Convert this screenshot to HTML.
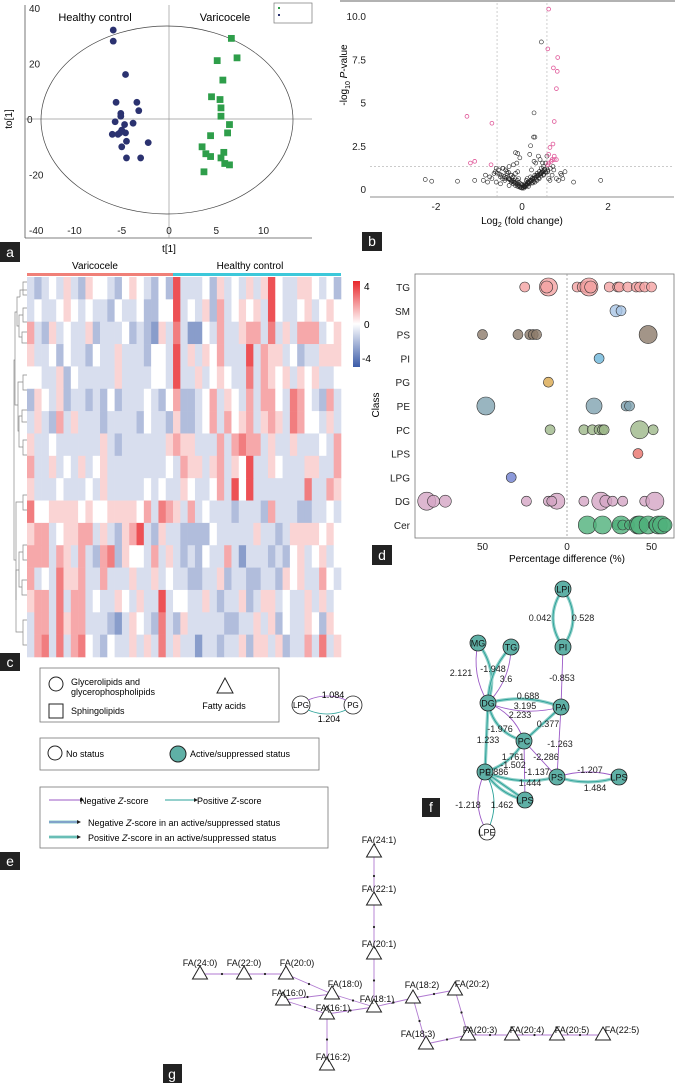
<!DOCTYPE html>
<html><head><meta charset="utf-8"><style>
html,body{margin:0;padding:0;background:#fff}
svg{display:block;font-family:"Liberation Sans",Arial,sans-serif}
</style></head><body>
<svg id="fig" width="675" height="1083" viewBox="0 0 675 1083" xmlns="http://www.w3.org/2000/svg">
<!-- Panel a -->
<g id="pa">
<line x1="25" y1="5" x2="25" y2="238" stroke="#555" stroke-width="0.8"/>
<line x1="25" y1="238" x2="312" y2="238" stroke="#555" stroke-width="0.8"/>
<line x1="169" y1="5" x2="169" y2="238" stroke="#999" stroke-width="0.7"/>
<line x1="25" y1="119" x2="312" y2="119" stroke="#999" stroke-width="0.7"/>
<ellipse cx="167" cy="120" rx="126" ry="94" fill="none" stroke="#444" stroke-width="0.7"/>
<rect x="274" y="3" width="38" height="20" fill="#fff" stroke="#777" stroke-width="0.7"/>
<rect x="278" y="7" width="2" height="2" fill="#2e9e4a"/><rect x="278" y="14" width="2" height="2" fill="#2b3270"/>
<text x="95" y="21" font-size="11" text-anchor="middle">Healthy control</text>
<text x="225" y="21" font-size="11" text-anchor="middle">Varicocele</text>
<text x="169" y="252" font-size="10" text-anchor="middle">t[1]</text>
<text x="12" y="119" font-size="10" text-anchor="middle" transform="rotate(-90 12 119)">to[1]</text>
<g id="pa-ticks" font-size="10" fill="#222"></g>
<g id="pa-pts"></g>
<rect x="0" y="242" width="20" height="20" fill="#222"/><text x="10" y="257" font-size="14" fill="#fff" text-anchor="middle">a</text>
</g>
<!-- Panel b -->
<g id="pb">
<line x1="340" y1="1" x2="675" y2="1" stroke="#999" stroke-width="1.5"/>
<line x1="370" y1="197" x2="674" y2="197" stroke="#666" stroke-width="0.7"/>
<g id="pb-grid"></g>
<g id="pb-ticks" font-size="10" fill="#222"></g>
<g id="pb-pts"></g>
<text x="522" y="224" font-size="10" text-anchor="middle">Log<tspan font-size="7" dy="3">2</tspan><tspan dy="-3"> (fold change)</tspan></text>
<text x="347" y="75" font-size="10" text-anchor="middle" transform="rotate(-90 347 75)">-log<tspan font-size="7" dy="3">10</tspan><tspan dy="-3"> </tspan><tspan font-style="italic">P</tspan>-value</text>
<rect x="362" y="232" width="20" height="19" fill="#222"/><text x="372" y="246" font-size="14" fill="#fff" text-anchor="middle">b</text>
</g>
<!-- Panel c -->
<g id="pc">
<text x="95" y="269" font-size="10" text-anchor="middle">Varicocele</text>
<text x="250" y="269" font-size="10" text-anchor="middle">Healthy control</text>
<rect x="27" y="273" width="146" height="3" fill="#f08078"/>
<rect x="173" y="273" width="168" height="3" fill="#3cc8da"/>
<g id="pc-cells"></g>
<g id="pc-dendro" stroke="#888" stroke-width="0.7" fill="none"></g>
<defs><linearGradient id="hg" x1="0" y1="0" x2="0" y2="1"><stop offset="0" stop-color="#e8262a"/><stop offset="0.5" stop-color="#ffffff"/><stop offset="1" stop-color="#3b5ba8"/></linearGradient></defs>
<rect x="353" y="281" width="7" height="86" fill="url(#hg)"/>
<text x="364" y="290" font-size="10">4</text><text x="364" y="328" font-size="10">0</text><text x="362" y="362" font-size="10">-4</text>
<rect x="0" y="653" width="20" height="18" fill="#222"/><text x="10" y="667" font-size="14" fill="#fff" text-anchor="middle">c</text>
</g>
<!-- Panel d -->
<g id="pd">
<rect x="415" y="274" width="259" height="264" fill="none" stroke="#777" stroke-width="0.8"/>
<line x1="567" y1="274" x2="567" y2="538" stroke="#888" stroke-width="0.7" stroke-dasharray="2,2"/>
<g id="pd-labels" font-size="10" fill="#222"></g>
<g id="pd-pts"></g>
<text x="379" y="405" font-size="10" text-anchor="middle" transform="rotate(-90 379 405)">Class</text>
<text x="567" y="562" font-size="10" text-anchor="middle">Percentage difference (%)</text>
<rect x="372" y="545" width="20" height="20" fill="#222"/><text x="382" y="560" font-size="14" fill="#fff" text-anchor="middle">d</text>
</g>
<!-- Panel e -->
<g id="pe" font-size="9">
<rect x="40" y="668" width="239" height="54" fill="#fff" stroke="#777" stroke-width="0.8"/>
<circle cx="56" cy="684" r="7" fill="none" stroke="#222"/>
<text x="71" y="685">Glycerolipids and</text><text x="71" y="695">glycerophospholipids</text>
<rect x="49" y="704" width="14" height="14" fill="none" stroke="#222"/>
<text x="71" y="714">Sphingolipids</text>
<polygon points="225,678 217,693 233,693" fill="none" stroke="#222"/>
<text x="224" y="709" text-anchor="middle">Fatty acids</text>
<circle cx="301" cy="705" r="9" fill="#fff" stroke="#222" stroke-width="0.8"/>
<circle cx="353" cy="705" r="9" fill="#fff" stroke="#222" stroke-width="0.8"/>
<path d="M308,700 Q327,692 346,700" fill="none" stroke="#9b59c6" stroke-width="0.8"/>
<path d="M308,710 Q327,718 346,710" fill="none" stroke="#2aa198" stroke-width="0.8"/>
<text x="301" y="708" text-anchor="middle" font-size="8">LPG</text><text x="353" y="708" text-anchor="middle" font-size="8">PG</text>
<text x="333" y="698" text-anchor="middle">1.084</text><text x="329" y="722" text-anchor="middle">1.204</text>
<rect x="40" y="738" width="279" height="32" fill="#fff" stroke="#777" stroke-width="0.8"/>
<circle cx="55" cy="753" r="7" fill="none" stroke="#222"/>
<text x="66" y="757">No status</text>
<circle cx="178" cy="754" r="8" fill="#5fb0a6" stroke="#222"/>
<text x="190" y="757">Active/suppressed status</text>
<rect x="40" y="787" width="288" height="61" fill="#fff" stroke="#777" stroke-width="0.8"/>
<line x1="49" y1="800" x2="80" y2="800" stroke="#9b59c6"/><polygon points="80,798 84,800 80,802" fill="#222"/>
<text x="80" y="804">Negative <tspan font-style="italic">Z</tspan>-score</text>
<line x1="165" y1="800" x2="194" y2="800" stroke="#2aa198"/><polygon points="194,798 198,800 194,802" fill="#222"/>
<text x="197" y="804">Positive <tspan font-style="italic">Z</tspan>-score</text>
<line x1="49" y1="822" x2="77" y2="822" stroke="#8fcfc8" stroke-width="3"/><line x1="49" y1="822" x2="77" y2="822" stroke="#6a5acd" stroke-width="0.8"/><polygon points="77,820 81,822 77,824" fill="#222"/>
<text x="88" y="826">Negative <tspan font-style="italic">Z</tspan>-score in an active/suppressed status</text>
<line x1="49" y1="837" x2="77" y2="837" stroke="#8fcfc8" stroke-width="3"/><line x1="49" y1="837" x2="77" y2="837" stroke="#2aa198" stroke-width="0.8"/><polygon points="77,835 81,837 77,839" fill="#222"/>
<text x="88" y="841">Positive <tspan font-style="italic">Z</tspan>-score in an active/suppressed status</text>
<rect x="0" y="852" width="20" height="18" fill="#222"/><text x="10" y="866" font-size="14" fill="#fff" text-anchor="middle">e</text>
</g>
<!-- Panel f -->
<g id="pf">
<g id="pf-edges"></g><g id="pf-nodes"></g><g id="pf-elabels" font-size="9" fill="#222" text-anchor="middle"></g>
<rect x="422" y="798" width="18" height="19" fill="#222"/><text x="431" y="812" font-size="14" fill="#fff" text-anchor="middle">f</text>
</g>
<!-- Panel g -->
<g id="pg">
<g id="pg-edges"></g><g id="pg-nodes"></g>
<rect x="163" y="1064" width="19" height="19" fill="#222"/><text x="172" y="1079" font-size="14" fill="#fff" text-anchor="middle">g</text>
</g>
</svg>
<script>
const NS="http://www.w3.org/2000/svg";
function mk(tag,attrs,parent){const e=document.createElementNS(NS,tag);for(const k in attrs)e.setAttribute(k,attrs[k]);parent.appendChild(e);return e;}
function tx(str,attrs,parent){const e=mk('text',attrs,parent);e.textContent=str;return e;}

/* ---------- Panel a data ---------- */
const aXTicks=[-10,-5,0,5,10];
const aYTicks=[40,20,0,-20,-40];
const healthyT=[-5.9,-5.9,-4.6,-5.6,-3.4,-5.1,-3.2,-5.1,-5.7,-3.8,-4.7,-6.0,-5.4,-5.0,-4.6,-4.5,-5.0,-2.2,-4.5,-3.0,-5.2];
const healthyTo=[32,28,16,6,6,2,3,1,-1,-1.5,-2,-5.5,-5.5,-4,-5,-8,-10,-8.5,-14,-14,-5];
const varicT=[6.6,5.1,7.2,5.7,4.5,5.4,5.5,5.5,6.4,4.4,6.2,3.5,3.9,4.4,5.8,5.5,5.9,6.4,3.7];
const varicTo=[29,21,22,14,8,7,4,1,-2,-6,-5,-10,-12.5,-13.5,-12,-14,-16,-16.5,-19];
const ax=v=>169+v*9.45, ay=v=>119-v*2.78;
(function(){
 const g=document.getElementById('pa-ticks'), p=document.getElementById('pa-pts');
 aXTicks.forEach(v=>{tx(String(v),{x:ax(v),y:234,'text-anchor':'middle'},g);});
 aYTicks.forEach(v=>{tx(String(v),{x:v===0?27:29,y:ay(v)+4},g);});
 healthyT.forEach((v,i)=>{const c=mk('circle',{cx:ax(v),cy:ay(healthyTo[i]),r:3.4,fill:'#2b3270'},p);
  
  });
 varicT.forEach((v,i)=>{const c=mk('rect',{x:ax(v)-3.4,y:ay(varicTo[i])-3.4,width:6.8,height:6.8,fill:'#2e9e4a'},p);
  
  });
})();

/* ---------- Panel b data ---------- */
const bXTicks=[-2,0,2];
const bYTicks=[0,2.5,5,7.5,10];
const sigFC=[0.62,0.6,0.83,0.73,0.82,0.8,0.75,-1.28,-0.7,0.72,0.65,0.75,0.62,0.7,0.75,-1.1,-1.2,-0.72,0.62,0.6,0.68,0.8];
const sigP=[10.4,8.1,7.6,7.0,6.8,5.8,3.9,4.2,3.8,2.6,2.4,1.9,2.0,1.7,1.7,1.6,1.5,1.4,1.5,1.4,1.6,1.7];
const nsFC=[0.45,0.28,0.3,0.27,0.2,-0.15,-0.1,-2.25,-2.1,-1.5,1.83,1.2,-1.1,-0.9,-0.85,0.95,1.0,0.9,-0.65,-0.55,-0.5,-0.45,-0.4,-0.35,-0.3,-0.25,-0.2,-0.15,-0.1,-0.05,0,0.05,0.1,0.15,0.2,0.25,0.3,0.35,0.4,0.45,0.5,0.55,-0.6,-0.5,-0.4,-0.3,-0.2,-0.1,0.02,0.1,0.2,0.3,0.4,0.5,0.55,-0.35,-0.25,-0.15,-0.08,0.08,0.15,0.25,0.35,0.45,0.52,-0.45,-0.3,-0.2,-0.1,0,0.12,0.22,0.32,0.42,0.6,0.7,0.65,0.8,-0.75,-0.8,0.85,-0.6,0.48,0.38,0.28,0.18,-0.05,-0.12,0.58,0.62,
 -0.02,0.03,-0.04,0.06,0.07,0.09,0.11,0.13,0.16,0.18,0.21,0.23,0.26,0.29,0.31,0.33,0.36,0.38,0.41,0.43,0.46,0.49,-0.06,-0.09,-0.12,-0.14,-0.17,-0.19,-0.22,-0.24,-0.27,-0.29,-0.32,-0.37,-0.42,-0.48,-0.52,-0.58,0.04,0.08,0.12,0.17,0.22,0.27,0.33,0.39,0.44,0.5,0.56,0.6,0.66,0.72,-0.03,-0.07,-0.11,-0.16,-0.21,-0.26,-0.31,-0.38,0.0,0.05,0.14,0.24,0.34,0.47,0.53,-0.44,-0.62,-0.7,0.74,0.92];
const nsP=[8.5,4.4,3.0,3.0,2.5,2.1,2.05,0.55,0.45,0.45,0.5,0.4,0.5,0.5,0.8,0.6,1.0,0.9,0.9,1.1,0.7,1.2,0.5,0.9,0.6,0.4,0.3,0.2,0.15,0.1,0.05,0.15,0.25,0.4,0.5,0.6,0.8,0.9,1.0,1.2,1.3,1.5,0.4,0.3,0.6,0.2,0.5,0.3,0.2,0.5,0.7,0.4,0.6,0.8,1.0,1.0,0.8,0.9,0.6,0.3,0.15,0.35,0.5,0.9,1.1,0.6,1.3,1.4,1.0,0.1,0.6,1.1,1.5,1.7,1.0,0.8,0.5,0.6,0.7,0.4,0.5,1.2,1.5,1.9,1.6,2.0,1.8,1.5,1.9,0.6,
 0.08,0.1,0.12,0.14,0.2,0.22,0.28,0.32,0.36,0.42,0.45,0.5,0.55,0.62,0.65,0.7,0.75,0.8,0.85,0.9,0.95,1.0,0.18,0.22,0.28,0.33,0.38,0.4,0.45,0.48,0.52,0.55,0.6,0.66,0.72,0.8,0.85,0.92,0.05,0.12,0.2,0.3,0.35,0.45,0.55,0.65,0.75,0.85,0.95,1.1,1.2,1.3,0.3,0.38,0.5,0.6,0.7,0.8,0.95,1.1,0.25,0.18,0.42,0.62,0.78,1.05,1.15,1.2,1.0,0.6,1.1,0.8];
const bx=v=>522+v*43, by=v=>189-v*17.3;
(function(){
 const gr=document.getElementById('pb-grid'),g=document.getElementById('pb-ticks'),p=document.getElementById('pb-pts');
 [-0.58,0.58].forEach(v=>mk('line',{x1:bx(v),y1:3,x2:bx(v),y2:197,stroke:'#bbb','stroke-width':0.7,'stroke-dasharray':'2,2'},gr));
 mk('line',{x1:370,y1:by(1.3),x2:674,y2:by(1.3),stroke:'#bbb','stroke-width':0.7,'stroke-dasharray':'2,2'},gr);
 bXTicks.forEach(v=>tx(String(v),{x:bx(v),y:210,'text-anchor':'middle'},g));
 bYTicks.forEach(v=>tx(v===10?'10.0':String(v),{x:366,y:by(v)+4,'text-anchor':'end'},g));
 nsFC.forEach((v,i)=>{const c=mk('circle',{cx:bx(v),cy:by(nsP[i]),r:2,fill:'none',stroke:'#222','stroke-width':0.6},p);
  
  });
 sigFC.forEach((v,i)=>{const c=mk('circle',{cx:bx(v),cy:by(sigP[i]),r:1.9,fill:'none',stroke:'#e05a9a','stroke-width':0.8},p);
  
  });
})();

/* ---------- Panel c data ---------- */
const hmRow0=[-1,-2,-1,0,-1,1,-1,-2,1,0,0,-1,-2,0,1,0,-1,-2,0,-2,4,-1,-1,-1,0,-2,1,-1,0,-1,1,-1,1,4,0,-1,-1,1,1,0,-1,0,-2];
const hmRow1=[-1,0,-1,-1,0,1,0,-1,0,-1,-1,-2,0,-1,-1,0,-2,-2,0,0,4,-1,0,-1,1,-2,2,-1,0,1,0,1,-1,4,0,-1,-1,0,1,-1,0,1,0];
const hmRow2=[2,-1,-2,1,-1,0,-1,-1,1,-2,-1,-1,-1,0,-2,-1,-2,-3,1,-1,3,-1,-3,-3,0,-1,2,-1,-1,1,2,2,-1,3,-1,1,-1,2,2,2,-1,0,1];
const hmRow3=[1,-1,-1,0,-2,0,-1,-1,-2,0,-1,-1,1,-1,-1,-1,-2,0,0,-1,4,-1,1,-1,1,0,2,-1,-1,-1,4,-1,2,1,1,-1,0,-2,-1,-1,1,1,1];
const hmRow4=[0,0,-1,-1,1,-2,0,-1,-1,-1,-1,-1,1,-1,-1,-1,-1,0,0,-1,4,-1,-1,1,-1,0,1,0,-1,-1,3,-1,2,1,0,1,-1,1,0,1,-1,-1,0];
const hmRow5=[-2,1,0,-1,1,-2,-1,-1,-2,-1,-2,0,-2,-1,-1,-1,0,-1,-2,0,2,-2,-2,-1,0,2,-1,1,0,-1,2,-1,2,2,0,-1,3,2,0,-1,-2,2,-1];
const hmRow6=[-1,1,-1,-2,2,-1,1,-1,-1,-1,-2,-1,-1,-1,-1,-2,0,-1,-1,-2,1,-2,-2,-1,0,2,-1,2,0,1,2,-1,1,2,1,-1,3,2,0,0,-1,1,-1];
const hmRow7=[1,-1,-1,0,-1,-1,-1,-1,-1,-1,1,-1,-2,-1,-1,-1,-1,-1,-1,1,2,1,1,-1,-1,-1,2,-1,2,3,2,2,-1,1,-1,-1,1,-1,-1,-1,0,-1,2];
const hmRow8=[2,-1,-1,1,-1,0,-1,1,-1,0,1,-1,-1,-1,-1,-1,-1,-1,-1,0,-1,2,1,1,-1,1,2,-1,1,0,4,-1,-1,1,0,-1,-1,-1,1,1,-1,-1,2];
const hmRow9=[1,-1,-1,-1,0,-1,-1,-1,0,-1,1,-1,-1,-1,-1,-1,0,-1,0,-1,-1,1,0,-1,-1,0,2,-1,4,0,4,-1,-1,-1,-1,-1,-1,-1,3,-1,-1,2,1];
const hmRow10=[3,0,0,1,1,1,1,0,1,0,0,1,1,1,1,0,2,-1,3,2,1,-1,2,-1,0,-1,-1,-1,-2,-1,-1,-1,-2,2,-1,-1,-1,-2,-2,-1,-1,0,-1];
const hmRow11=[1,2,2,-1,0,1,1,2,2,-1,1,-1,-2,1,2,4,-1,-2,1,-1,-1,-2,-2,-2,-2,0,-1,-1,-1,-1,-1,1,-1,-1,-2,-1,1,1,1,1,0,1,0];
const hmRow12=[2,2,2,-1,2,1,-1,2,-1,-2,2,3,-2,1,0,0,-1,2,-1,1,-1,-2,-1,-2,0,-1,-1,2,-1,-3,-1,-1,-1,-2,-1,-2,0,1,-1,0,1,-1,0];
const hmRow13=[2,-1,0,-1,3,1,1,2,-1,-1,2,-1,-1,-1,1,-1,-1,1,-1,0,-1,-1,-2,-2,-1,-1,1,-2,-1,-1,-2,-2,-1,-1,-2,1,0,1,-1,-1,2,0,-1];
const hmRow14=[1,2,2,-1,3,-1,2,2,-1,0,-1,-1,1,0,-1,1,-1,-1,4,-1,0,0,-1,-1,1,-1,-2,-1,-1,1,-2,-1,1,1,-1,0,-1,-1,1,-1,1,-1,0];
const hmRow15=[-1,2,2,-1,3,1,2,2,-1,-1,-1,-2,-3,-1,1,0,-1,-2,3,-1,-2,1,-1,-1,-1,-1,-1,-2,-2,-1,-1,1,-1,1,-2,0,-1,-1,1,0,-2,1,0];
const hmRow16=[-1,2,3,-1,3,-1,2,3,0,-1,-2,0,-1,-1,1,-1,1,-1,3,-1,1,-1,-1,-3,-1,-1,-2,-1,-1,1,-2,1,1,-1,1,-2,-1,-1,2,-1,3,-1,1];
const hmRows=[hmRow0,hmRow1,hmRow2,hmRow3,hmRow4,hmRow5,hmRow6,hmRow7,hmRow8,hmRow9,hmRow10,hmRow11,hmRow12,hmRow13,hmRow14,hmRow15,hmRow16];
function hcol(v){const t=Math.max(-1,Math.min(1,v/4));
 let r,g,b;if(t>=0){r=255+(232-255)*t;g=255+(38-255)*t;b=255+(42-255)*t;}else{const s=-t;r=255+(59-255)*s;g=255+(91-255)*s;b=255+(168-255)*s;}
 return 'rgb('+Math.round(r)+','+Math.round(g)+','+Math.round(b)+')';}
(function(){
 const g=document.getElementById('pc-cells');const nC=43,x0=27,x1=341,y0=277,y1=657;
 const cw=(x1-x0)/nC, rh=(y1-y0)/hmRows.length;
 hmRows.forEach((row,ri)=>row.forEach((v,ci)=>{
  const c=mk('rect',{x:x0+ci*cw,y:y0+ri*rh,width:cw+0.3,height:rh+0.3,fill:hcol(v*0.8)},g);
  
  }));
 const d=document.getElementById('pc-dendro');
 const paths=['M27,282 H23 V295 H27','M27,290 H20 V297','M27,308 H23 V322 H27','M27,332 H22 V343 H27','M23,315 H19 V337 H22','M20,297 H17 V326 H19','M27,375 H23 V390 H27','M27,410 H22 V422 H27','M27,440 H23 V455 H27','M22,416 H19 V447 H23','M23,382 H18 V431 H19','M17,312 H15 V405 H18','M27,495 H23 V510 H27','M27,545 H23 V560 H27','M27,580 H22 V595 H27','M23,552 H19 V587 H22','M27,620 H23 V645 H27','M19,570 H16 V632 H23','M23,502 H16 V600','M15,360 H14 V560 H16'];
 paths.forEach(p=>mk('path',{d:p},d));
})();

/* ---------- Panel d data ---------- */
const dClasses=['TG','SM','PS','PI','PG','PE','PC','LPS','LPG','DG','Cer'];
const dColors=['#f4a3a3','#a9c6e6','#8c7a6a','#6bb5d9','#d9a84e','#7fa3b0','#9db88a','#e8726a','#6f7fcf','#d4a5c4','#4fb07a'];
const dXTicks=[-50,0,50];
const ptClass=[0,0,0,0,0,0,0,0,0,0,0,0,0,0,0,0, 1,1, 2,2,2,2,2,2, 3, 4, 5,5,5,5, 6,6,6,6,6,6,6,6, 7, 8, 9,9,9,9,9,9,9,9,9,9,9,9,9,9, 10,10,10,10,10,10,10,10,10,10,10,10,10];
const ptDiff=[-25,-11,-12,6,9,12,13,14,25,30,31,36,41,43,46,50, 29,32, -50,-29,-22,-20,-18,48, 19, -11, -48,16,35,37, -10,10,15,19,21,22,43,51, 42, -33, -83,-79,-72,-24,-11,-6,-9,10,20,23,27,33,46,52, 12,21,30,32,33,37,42,43,48,51,54,56,58];
const ptSize=[5,9,6,5,5,6,9,6,5,5,5,5,5,5,5,5, 6,5, 5,5,5,5,5,9, 5, 5, 9,8,5,5, 5,5,5,5,5,5,9,5, 5, 5, 9,6,6,5,5,8,5,5,9,6,5,5,5,9, 9,9,5,9,5,5,9,9,9,5,9,9,7];
const dx=v=>567+v*1.69, dy=i=>287+i*23.8;
(function(){
 const g=document.getElementById('pd-labels'),p=document.getElementById('pd-pts');
 dClasses.forEach((c,i)=>tx(c,{x:410,y:dy(i)+4,'text-anchor':'end'},g));
 dXTicks.forEach(v=>tx(String(Math.abs(v)),{x:dx(v),y:550,'text-anchor':'middle'},g));
 ptDiff.forEach((v,i)=>{const c=mk('circle',{cx:dx(v),cy:dy(ptClass[i]),r:ptSize[i],fill:dColors[ptClass[i]],'fill-opacity':0.8,stroke:'#333','stroke-width':0.6},p);
  
  });
})();

/* ---------- Panel f data ---------- */
const fNodes=['LPI','PI','MG','TG','DG','PA','PC','PE','PS','LPS','LPS','LPE'];
const fNX=[563,563,478,511,488,561,524,485,557,619,525,487];
const fNY=[589,647,643,647,703,707,741,772,777,777,800,832];
const fActive=[1,1,1,1,1,1,1,1,1,1,1,0];
const fEdgeFrom=[0,0,2,2,3,3,1,4,4,4,4,5,4,5,6,6,6,7,7,8,8,7,11,11];
const fEdgeTo=[1,1,4,4,4,4,5,5,5,6,7,6,6,8,7,8,10,8,10,9,9,10,7,7];
const fEdgeType=[2,2,2,1,1,2,1,2,1,1,2,2,2,1,2,1,1,2,2,1,2,2,1,0];
const fEdgeBend=[-10,10,-8,6,-6,6,0,-6,6,-6,0,0,8,0,-5,0,0,6,0,-5,5,5,-8,8];
const fLabels=['0.042','0.528','2.121','-1.948','3.6','-0.853','0.688','3.195','2.233','0.377','-1.976','1.233','-1.263','1.761','-2.286','-1.502','0.886','-1.137','-1.207','1.444','1.484','-1.218','1.462'];
const fLX=[540,583,461,493,506,562,528,525,520,548,500,488,560,513,546,513,497,537,590,530,595,468,502];
const fLY=[621,621,676,672,682,681,699,709,718,727,732,743,747,760,760,768,775,775,773,786,791,808,808];
(function(){
 const ge=document.getElementById('pf-edges'),gn=document.getElementById('pf-nodes'),gl=document.getElementById('pf-elabels');
 fEdgeFrom.forEach((a,i)=>{const b=fEdgeTo[i];const x1=fNX[a],y1=fNY[a],x2=fNX[b],y2=fNY[b];
  const mx=(x1+x2)/2,my=(y1+y2)/2,len=Math.hypot(x2-x1,y2-y1)||1,nx=-(y2-y1)/len,ny=(x2-x1)/len,bd=fEdgeBend[i];
  const d='M'+x1+','+y1+' Q'+(mx+nx*bd*2)+','+(my+ny*bd*2)+' '+x2+','+y2;
  if(fEdgeType[i]===2) mk('path',{d:d,fill:'none',stroke:'#8fcfc8','stroke-width':3.2},ge);
  const col=(fEdgeType[i]===1)?'#9b59c6':'#2aa198';
  const e=mk('path',{d:d,fill:'none',stroke:col,'stroke-width':0.9},ge);
  
  });
 fNodes.forEach((n,i)=>{const c=mk('circle',{cx:fNX[i],cy:fNY[i],r:8,fill:fActive[i]?'#5fb0a6':'#fff',stroke:'#222','stroke-width':0.8},gn);
  
  
  tx(n,{x:fNX[i],y:fNY[i]+3.5,'font-size':9,'text-anchor':'middle',fill:'#111'},gn);});
 fLabels.forEach((s,i)=>tx(s,{x:fLX[i],y:fLY[i]},gl));
})();

/* ---------- Panel g data ---------- */
const gNodes=['FA(24:1)','FA(22:1)','FA(20:1)','FA(24:0)','FA(22:0)','FA(20:0)','FA(18:0)','FA(16:0)','FA(16:1)','FA(18:1)','FA(18:2)','FA(20:2)','FA(18:3)','FA(20:3)','FA(20:4)','FA(20:5)','FA(22:5)','FA(16:2)'];
const gNX=[374,374,374,200,244,286,332,283,327,374,413,455,426,468,512,557,603,327];
const gNY=[855,903,957,977,977,977,997,1003,1017,1010,1001,993,1047,1038,1038,1038,1038,1068];
const gLX=[379,379,379,200,244,297,345,289,333,377,422,472,418,480,527,572,622,333];
const gLY=[843,892,947,966,966,966,987,996,1011,1002,988,987,1037,1033,1033,1033,1033,1060];
const gEdgeFrom=[3,4,5,6,7,7,8,8,9,2,1,9,10,10,11,12,13,14,15];
const gEdgeTo=[4,5,6,9,6,8,9,17,2,1,0,10,11,12,13,13,14,15,16];
(function(){
 const ge=document.getElementById('pg-edges'),gn=document.getElementById('pg-nodes');
 gEdgeFrom.forEach((a,i)=>{const b=gEdgeTo[i];
  const e=mk('line',{x1:gNX[a],y1:gNY[a]-3,x2:gNX[b],y2:gNY[b]-3,stroke:'#b07ad0','stroke-width':0.9},ge);
  
  
  mk('circle',{cx:(gNX[a]+gNX[b])/2,cy:(gNY[a]+gNY[b])/2-3,r:1.1,fill:'#222'},ge);});
 gNodes.forEach((n,i)=>{const x=gNX[i],y=gNY[i];
  const t=mk('polygon',{points:(x)+','+(y-11)+' '+(x-7.5)+','+(y+2)+' '+(x+7.5)+','+(y+2),fill:'#fff',stroke:'#222','stroke-width':1},gn);
  
  
  tx(n,{x:gLX[i],y:gLY[i],'font-size':9,'text-anchor':'middle',fill:'#111'},gn);});
})();
</script>
</body></html>
